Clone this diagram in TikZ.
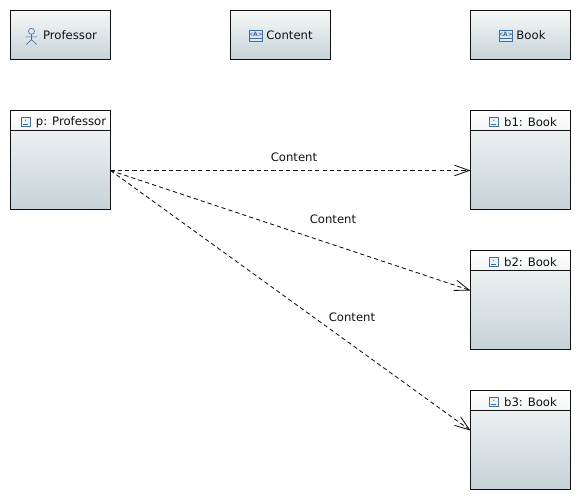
\documentclass[tikz,border=0pt]{standalone}
\usepackage{fontspec}
\setmainfont{DejaVu Sans}
\usetikzlibrary{arrows.meta,positioning}
\definecolor{ink}{HTML}{111111}
\definecolor{shadetop}{HTML}{F6F8F8}
\definecolor{shadebot}{HTML}{C6D2D8}
\definecolor{headbot}{HTML}{F4F6F7}
\definecolor{iconblue}{HTML}{3F6F9F}
\definecolor{iconfill}{HTML}{DCE8F4}
\tikzset{
  typebox/.style={draw=ink,line width=0.7pt,minimum width=2.5cm,minimum height=1.225cm,top color=shadetop,bottom color=shadebot,inner sep=0pt},
  instbox/.style={draw=ink,line width=0.7pt,minimum width=2.5cm,minimum height=2.475cm,top color=shadetop,bottom color=shadebot,inner sep=0pt},
  headbox/.style={draw=ink,line width=0.7pt,minimum width=2.5cm,minimum height=0.5cm,top color=white,bottom color=headbot,inner sep=0pt},
  lbl/.style={font=\fontsize{8.3}{10}\selectfont,text=ink,inner sep=0pt},
  link/.style={draw=ink,line width=0.6pt,dash pattern=on 3pt off 2.2pt,-{Straight Barb[length=10.5pt,width=7.5pt,line width=0.6pt]}},
}
% small icons, #1 is the centre
\newcommand{\actoricon}[1]{
  \draw[iconblue,line width=0.45pt] ([yshift=0.13cm]#1) circle (0.075cm);
  \draw[iconblue,line width=0.45pt] ([yshift=0.055cm]#1) -- ([yshift=-0.08cm]#1)
    ([xshift=-0.14cm,yshift=-0.01cm]#1) -- ([xshift=0.14cm,yshift=-0.01cm]#1)
    ([xshift=-0.13cm,yshift=-0.2cm]#1) -- ([yshift=-0.08cm]#1) -- ([xshift=0.13cm,yshift=-0.2cm]#1);
}
\newcommand{\classicon}[1]{
  \draw[iconblue,fill=iconfill,line width=0.4pt] ([xshift=-0.16cm,yshift=-0.14cm]#1) rectangle ([xshift=0.16cm,yshift=0.14cm]#1);
  \draw[iconblue,line width=0.4pt] ([xshift=-0.16cm,yshift=-0.07cm]#1) -- ([xshift=0.16cm,yshift=-0.07cm]#1);
  \node[font=\fontsize{4.2}{5}\selectfont\bfseries,text=iconblue,inner sep=0pt] at ([yshift=0.04cm]#1) {<A>};
}
\newcommand{\insticon}[1]{
  \draw[iconblue,fill=iconfill!50,line width=0.4pt] ([xshift=-0.11cm,yshift=-0.11cm]#1) rectangle ([xshift=0.11cm,yshift=0.11cm]#1);
  \draw[iconblue,line width=0.4pt] ([xshift=-0.07cm,yshift=-0.06cm]#1) -- ([xshift=0.07cm,yshift=-0.06cm]#1);
  \fill[iconblue] ([yshift=0.03cm]#1) circle (0.015cm);
}
\begin{document}
\begin{tikzpicture}[x=0.025cm,y=-0.025cm]
\useasboundingbox (-0.5,-0.5) rectangle (579.5,499.5);
% type row
\node[typebox] (tprof) at (60,34.5) {};
\node[typebox] (tcont) at (280,34.5) {};
\node[typebox] (tbook) at (520,34.5) {};
\node[lbl] (lprof) at (69.5,35) {Professor};
\node[lbl] (lcont) at (289,35) {Content};
\node[lbl] (lbook) at (530.5,35) {Book};
\coordinate (iprof) at (31,36);
\coordinate (icont) at (255,35);
\coordinate (ibook) at (505,35);
\actoricon{iprof}
\classicon{icont}
\classicon{ibook}
% instances
\foreach \name/\xx/\yy/\txt/\tx/\ix in {p/60/159.5/p: Professor/70.5/25,b1/520/159.5/b1: Book/530/493,b2/520/299.5/b2: Book/530/493,b3/520/439.5/b3: Book/530/493}{
  \node[instbox] (\name) at (\xx,\yy) {};
  \node[headbox,anchor=north] (h\name) at (\name.north) {};
  \node[lbl] (l\name) at (\tx,{\yy-38}) {\txt};
  \coordinate (i\name) at (\ix,{\yy-38.5});
  \insticon{i\name}
}
% connectors
\coordinate (src) at (110,170);
\coordinate (endb1) at (470,170);
\coordinate (endb2) at (470,290);
\coordinate (endb3) at (470,430);
\draw[link] (src) -- (endb1);
\draw[link] (src) -- (endb2);
\draw[link] (src) -- (endb3);
\node[lbl] (c1) at (293.5,157) {Content};
\node[lbl] (c2) at (332.5,219) {Content};
\node[lbl] (c3) at (351.5,317) {Content};
\end{tikzpicture}
\end{document}
